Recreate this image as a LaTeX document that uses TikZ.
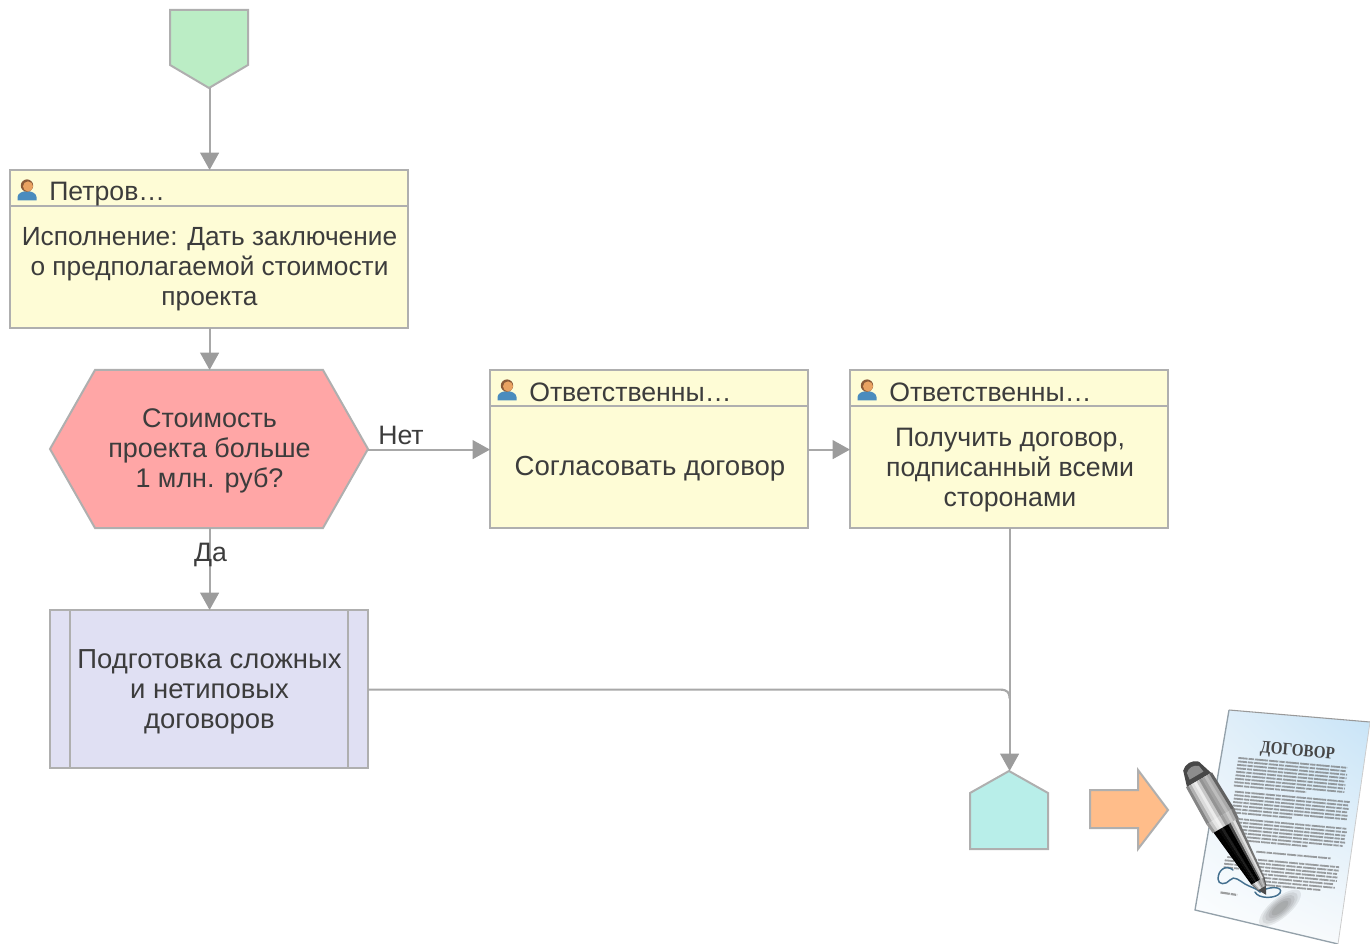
\documentclass[tikz,border=0pt]{standalone}
\usepackage{fontspec}
\setmainfont{Liberation Sans}
\newfontfamily\contractfont{Liberation Serif}
\usetikzlibrary{arrows.meta,calc,shadings}
\definecolor{edge}{HTML}{AFAFAF}
\definecolor{wire}{HTML}{A8A8A8}
\definecolor{tipcol}{HTML}{9C9C9C}
\definecolor{ink}{HTML}{3C3C3C}
\definecolor{taskfill}{HTML}{FEFCD6}
\definecolor{hexfill}{HTML}{FFA6A6}
\definecolor{subfill}{HTML}{E0E0F3}
\definecolor{startfill}{HTML}{BBEDC5}
\definecolor{endfill}{HTML}{B8EEE9}
\definecolor{arrowfill}{HTML}{FFBD8A}
\definecolor{persona}{HTML}{4A8CBE}
\definecolor{personb}{HTML}{E9A262}
\definecolor{personc}{HTML}{8A5A38}
\definecolor{paperA}{HTML}{C6E3F7}
\definecolor{paperB}{HTML}{E4F0F9}
\definecolor{paperC}{HTML}{F6F9FB}
\definecolor{signcol}{HTML}{44708F}
\tikzset{
  box/.style={draw=edge,line width=1.5pt,inner sep=0pt,outer sep=0pt,anchor=north west},
  taskbox/.style={box,fill=taskfill},
  anchorbox/.style={inner sep=0pt,outer sep=0pt,anchor=north west},
  lbl/.style={text=ink,font=\fontsize{#1}{22.5}\selectfont,align=center,inner sep=0pt},
  lbl/.default=20,
  hdr/.style={lbl,anchor=west},
  wirestyle/.style={draw=wire,line width=1.6pt},
  flow/.style={wirestyle,-{Triangle[length=13pt,width=14pt,color=tipcol]}},
  outl/.style={draw=edge,line width=1.5pt,line join=miter},
  pagetext/.style={draw=black!60,line width=1.35pt,opacity=.62,dash pattern=on 7pt off .7pt on 4pt off .7pt on 10pt off .8pt},
}
\newcommand{\personicon}[1]{%
  \begin{scope}[shift={(#1)}]
    \fill[persona] (-9.5,11.5) -- (-9.5,8) .. controls (-9,4) and (-5,3) .. (-3,2.5) -- (3,2.5) .. controls (5,3) and (9,4) .. (9.5,8) -- (9.5,11.5) -- cycle;
    \fill[personc] (0,-3.4) circle [radius=6.2];
    \fill[personb] (1,-2.6) circle [radius=5];
  \end{scope}}
% cross strips of the pen: from s0, half width w0 to s1, half width w1
\newcommand{\penpart}[5]{%
  \foreach \g [count=\i from 0] in {#5} {
    \pgfmathsetmacro{\fa}{-1+\i/5}
    \pgfmathsetmacro{\fb}{-1+(\i+1.15)/5}
    \fill[black!\g] (#1,{#2*\fa}) -- (#3,{#4*\fa}) -- (#3,{#4*min(\fb,1)}) -- (#1,{#2*min(\fb,1)}) -- cycle;
  }}
\begin{document}
\begin{tikzpicture}[x=0.75pt,y=-0.75pt]
\useasboundingbox (0,0) rectangle (1370,944);
% start event
\node[anchorbox,minimum width=58.5pt,minimum height=58.5pt] (start) at (170,10) {};
\draw[outl,fill=startfill] (start.north west) -- (start.north east) -- (248,65) -- (start.south) -- (170,65) -- cycle;
% task 1
\node[taskbox,minimum width=298.5pt,minimum height=118.5pt] (t1) at (10,170) {};
\draw[outl] (10,206) -- (408,206);
\personicon{27,189}
\node[hdr] (t1h) at (49,194) {Петров…};
\node[lbl=19.7] (t1b) at (209.5,269) {Исполнение: Дать заключение\\о предполагаемой стоимости\\проекта};
% decision
\node[anchorbox,minimum width=238.5pt,minimum height=118.5pt] (dec) at (50,370) {};
\draw[outl,fill=hexfill] (dec.west) -- (95,370) -- (323,370) -- (dec.east) -- (323,528) -- (95,528) -- cycle;
\node[lbl=20.2] (dect) at (209.5,451) {Стоимость\\проекта больше\\1 млн. руб?};
% task 2
\node[taskbox,minimum width=238.5pt,minimum height=118.5pt] (t2) at (490,370) {};
\draw[outl] (490,406) -- (808,406);
\personicon{507,389}
\node[hdr] (t2h) at (529,392) {Ответственны…};
\node[lbl=20.7] (t2b) at (650,469) {Согласовать договор};
% task 3
\node[taskbox,minimum width=238.5pt,minimum height=118.5pt] (t3) at (850,370) {};
\draw[outl] (850,406) -- (1168,406);
\personicon{867,389}
\node[hdr] (t3h) at (889,392) {Ответственны…};
\node[lbl] (t3b) at (1010,470) {Получить договор,\\подписанный всеми\\сторонами};
% subprocess
\node[box,fill=subfill,minimum width=238.5pt,minimum height=118.5pt] (sub) at (50,610) {};
\draw[outl] (70,610) -- (70,768) (348,610) -- (348,768);
\node[lbl=20.6] (subt) at (209.5,692) {Подготовка сложных\\и нетиповых\\договоров};
% end event
\node[anchorbox,minimum width=58.5pt,minimum height=58.5pt] (end) at (970,771) {};
\draw[outl,fill=endfill] (end.south west) -- (970,793) -- (end.north) -- (1048,793) -- (end.south east) -- cycle;
% orange arrow
\draw[outl,fill=arrowfill] (1090,790) -- (1138,790) -- (1138,770) -- (1168,810) -- (1138,849) -- (1138,828) -- (1090,828) -- cycle;
% connectors
\draw[flow] ($(start.south)+(.6,0)$) -- ($(t1.north)+(.6,0)$);
\draw[flow] ($(t1.south)+(.6,0)$) -- ($(dec.north)+(.6,0)$);
\draw[flow] ($(dec.east)+(0,.6)$) -- ($(t2.west)+(0,.6)$);
\draw[flow] ($(t2.east)+(0,.6)$) -- ($(t3.west)+(0,.6)$);
\draw[flow] ($(dec.south)+(.6,0)$) -- ($(sub.north)+(.6,0)$);
\draw[flow] ($(t3.south)+(.6,0)$) -- ($(end.north)+(.6,0)$);
\coordinate (joinmid) at ($(end.north |- sub.east)+(.6,.6)$);
\draw[wirestyle] ($(sub.east)+(0,.6)$) -- ($(joinmid)+(-10,0)$) .. controls ($(joinmid)+(-2,0)$) and ($(joinmid)+(0,3)$) .. ($(joinmid)+(0,9)$);
\node[lbl] (no) at (401,435) {Нет};
\node[lbl] (yes) at (210.5,555) {Да};
% contract picture: the sheet
\begin{scope}
  \clip (1229,710) -- (1370,722) -- (1338,944) -- (1195,910) -- cycle;
  \shade[upper right=paperA,upper left=paperB,lower left=white,lower right=paperC] (1190,706) rectangle (1372,946);
\end{scope}
\draw[draw=black!40,line width=.8pt,line join=round] (1229,710) -- (1370,722);
\draw[draw=signcol!60!black!50,line width=1pt] (1229,710) -- (1195,910) -- (1338,944);
\draw[draw=black!20,line width=.6pt] (1370,722) -- (1338,944);
\begin{scope}[shift={(1229,710)},x={(0.7425pt,-0.0675pt)},y={(-0.12pt,-0.74pt)}]
  \node[text=black!72,rotate=-5,inner sep=0pt,yscale=1.15] (title) at (75,36) {\contractfont\fontsize{11.4}{13}\selectfont\bfseries ДОГОВОР};
  \foreach \y/\a/\b in {47/17/127,50.5/17/126,54/17/128,57.5/17/128,61/17/127,64.5/17/128,68/17/128,71.5/17/128,75/17/90,
     81/19/135,84.5/19/134,88/19/135,91.5/19/134,95/19/135,98.5/19/135,102/19/80,
     108/22/136,111.5/22/137,115/22/136,118.5/22/136,122/22/137,125.5/22/135,129/22/100,
     139/50/125,
     147/22/135,150.5/20/135,154/20/134,157.5/20/135,161/55/135,164.5/60/132,168/60/134,171.5/65/120}
    \draw[pagetext] (\a,\y) -- (\b,\y);
  \draw[pagetext,line width=1.6pt] (21,183) -- (38,184);
\end{scope}
% signature
\draw[draw=signcol,line width=1.1pt,line cap=round] (1233,870) .. controls (1226,864) and (1218,870) .. (1218,879) .. controls (1218,885) and (1226,885) .. (1230,880) .. controls (1234,875) and (1240,881) .. (1245,884) .. controls (1250,887) and (1256,888) .. (1260,892) .. controls (1268,886) and (1284,886) .. (1280,893) .. controls (1276,899) and (1258,899) .. (1255,892);
% pen shadow
\foreach \r in {1,.85,.7,.55,.4}
  \fill[black,opacity=.07,rotate around={40:(1280,908)}] (1280,908) ellipse [x radius=26*\r,y radius=10*\r];
% pen
\begin{scope}[shift={(1195,773)},x={(0.378pt,-0.648pt)},y={(0.648pt,0.378pt)}]
  \fill[black!72] (-8,-9) .. controls (-13,-4) and (-13,4) .. (-8,9) -- (8,14) -- (8,-14) -- cycle;
  \fill[black!45] (-4,-7) .. controls (-8,-3) and (-8,3) .. (-4,7) -- (3,8) -- (3,-8) -- cycle;
  \penpart{8}{15}{50}{16}{48,30,14,8,22,42,36,26,34,62}
  \penpart{50}{16}{61}{15}{40,22,10,6,18,38,30,20,30,55}
  \penpart{61}{14}{125}{7.5}{100,100,96,88,100,100,72,28,12,55}
  \penpart{125}{7.5}{133}{5}{55,35,15,10,25,45,35,25,40,65}
  \fill[black!70] (133,-4.5) -- (141,0) -- (133,4.5) -- cycle;
\end{scope}
\end{tikzpicture}
\end{document}
